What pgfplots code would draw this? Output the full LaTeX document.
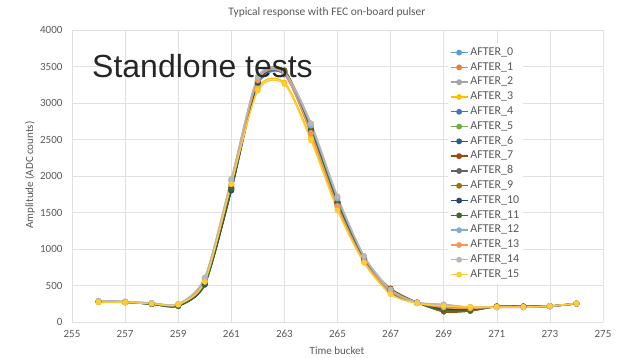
\documentclass[border=0pt]{standalone}
\usepackage{pgfplots}
\usepackage{pgfplotstable}
\pgfplotsset{compat=1.18}
\usepackage{fontspec}
\setmainfont{Carlito}
\newfontfamily\arialfont{Liberation Sans}
\definecolor{c0}{HTML}{5B9BD5}
\definecolor{c1}{HTML}{ED7D31}
\definecolor{c2}{HTML}{A5A5A5}
\definecolor{c3}{HTML}{FFC000}
\definecolor{c4}{HTML}{4472C4}
\definecolor{c5}{HTML}{70AD47}
\definecolor{c6}{HTML}{255E91}
\definecolor{c7}{HTML}{9E480E}
\definecolor{c8}{HTML}{636363}
\definecolor{c9}{HTML}{997300}
\definecolor{c10}{HTML}{264478}
\definecolor{c11}{HTML}{43682B}
\definecolor{c12}{HTML}{7CAFDD}
\definecolor{c13}{HTML}{F1975A}
\definecolor{c14}{HTML}{B7B7B7}
\definecolor{c15}{HTML}{FFCD33}
\definecolor{txtgray}{HTML}{595959}
\pgfplotstableread{
x   s0   s1   s2   s3   s4   s5   s6   s7   s8   s9   s10  s11  s12  s13  s14  s15
256 285  275  290  270  280  278  282  276  280  275  283  279  288  277  292  270
257 275  270  280  268  272  270  274  270  273  270  275  271  278  270  282  270
258 245  255  260  250  248  245  246  250  250  248  247  246  255  253  262  250
259 230  235  245  238  232  215  225  228  230  226  228  218  240  236  248  240
260 520  560  600  550  530  540  510  530  540  535  515  525  590  570  610  550
261 1810 1880 1950 1870 1820 1850 1800 1830 1840 1835 1805 1825 1930 1890 1960 1890
262 3250 3300 3350 3200 3280 3310 3290 3300 3320 3310 3280 3300 3340 3310 3360 3170
263 3400 3410 3430 3280 3390 3420 3410 3430 3440 3450 3420 3440 3410 3400 3420 3260
264 2620 2580 2720 2520 2600 2640 2630 2610 2650 2640 2630 2635 2690 2590 2720 2490
265 1640 1580 1710 1550 1620 1630 1640 1600 1650 1620 1640 1625 1690 1590 1720 1530
266 870  830  900  820  860  860  870  840  870  850  865  855  890  835  905  810
267 420  430  450  390  410  420  430  460  440  450  435  445  430  425  445  380
268 260  265  270  255  258  262  262  268  265  266  263  265  265  262  270  255
269 200  190  240  220  195  185  180  140  170  150  175  160  230  200  240  220
270 190  180  200  205  185  170  175  150  165  155  170  160  195  185  205  205
271 210  215  200  205  210  210  212  215  210  212  212  210  205  212  200  205
272 210  215  200  205  212  210  212  215  210  213  212  211  205  212  200  205
273 220  215  215  220  218  215  218  215  218  216  218  216  218  216  215  220
274 255  250  250  255  252  250  253  250  252  250  254  251  253  250  250  255
}\datatable
\begin{document}
\begin{tikzpicture}[x=1pt,y=1pt]
\path[use as bounding box] (0,0) rectangle (622,358);
\begin{axis}[
  at={(72pt,36pt)}, anchor=south west,
  scale only axis, width=531pt, height=292pt,
  xmin=255, xmax=275, ymin=0, ymax=4000,
  xtick={255,257,...,275}, ytick={0,500,...,4000},
  grid=major, major grid style={draw=black!12, line width=0.6pt},
  axis line style={draw=none},
  major tick length=0pt,
  tick label style={font=\fontsize{11}{13}\selectfont, text=txtgray},
  xticklabel style={yshift=-5pt},
  yticklabel style={xshift=-6pt},
  /pgf/number format/assume math mode=true,
  /pgf/number format/1000 sep={},
  every axis plot/.append style={line width=1.4pt, smooth, tension=0.45, mark=*, mark size=2.2pt, mark options={solid}},
  legend cell align=left,
  legend style={at={(axis cs:269.15,3820)}, anchor=north west, draw=none, fill=white,
    font=\fontsize{12}{14}\selectfont, text=txtgray, inner sep=2pt,
    nodes={inner sep=2pt, text height=8pt, text depth=2.5pt}, row sep=0.3pt},
]
\draw[black!25, line width=0.8pt] (axis cs:255,0) -- (axis cs:275,0);
\addplot[c0] table[x=x,y=s0]{\datatable};
\addlegendentry{AFTER\_0}
\addplot[c1] table[x=x,y=s1]{\datatable};
\addlegendentry{AFTER\_1}
\addplot[c2] table[x=x,y=s2]{\datatable};
\addlegendentry{AFTER\_2}
\addplot[c3] table[x=x,y=s3]{\datatable};
\addlegendentry{AFTER\_3}
\addplot[c4] table[x=x,y=s4]{\datatable};
\addlegendentry{AFTER\_4}
\addplot[c5] table[x=x,y=s5]{\datatable};
\addlegendentry{AFTER\_5}
\addplot[c6] table[x=x,y=s6]{\datatable};
\addlegendentry{AFTER\_6}
\addplot[c7] table[x=x,y=s7]{\datatable};
\addlegendentry{AFTER\_7}
\addplot[c8] table[x=x,y=s8]{\datatable};
\addlegendentry{AFTER\_8}
\addplot[c9] table[x=x,y=s9]{\datatable};
\addlegendentry{AFTER\_9}
\addplot[c10] table[x=x,y=s10]{\datatable};
\addlegendentry{AFTER\_10}
\addplot[c11] table[x=x,y=s11]{\datatable};
\addlegendentry{AFTER\_11}
\addplot[c12] table[x=x,y=s12]{\datatable};
\addlegendentry{AFTER\_12}
\addplot[c13] table[x=x,y=s13]{\datatable};
\addlegendentry{AFTER\_13}
\addplot[c14] table[x=x,y=s14]{\datatable};
\addlegendentry{AFTER\_14}
\addplot[c15] table[x=x,y=s15]{\datatable};
\addlegendentry{AFTER\_15}
\end{axis}
\node[anchor=base west, font=\arialfont\fontsize{32}{36}\selectfont, text=black!85, inner sep=0pt] at (92,280) {Standlone tests};
\node[font=\fontsize{11.5}{13}\selectfont, text=txtgray] at (327,346) {Typical response with FEC on-board pulser};
\node[font=\fontsize{11}{13}\selectfont, text=txtgray] at (337,7) {Time bucket};
\node[font=\fontsize{11}{13}\selectfont, text=txtgray, rotate=90] at (30,183) {Amplitude (ADC counts)};
\end{tikzpicture}
\end{document}
